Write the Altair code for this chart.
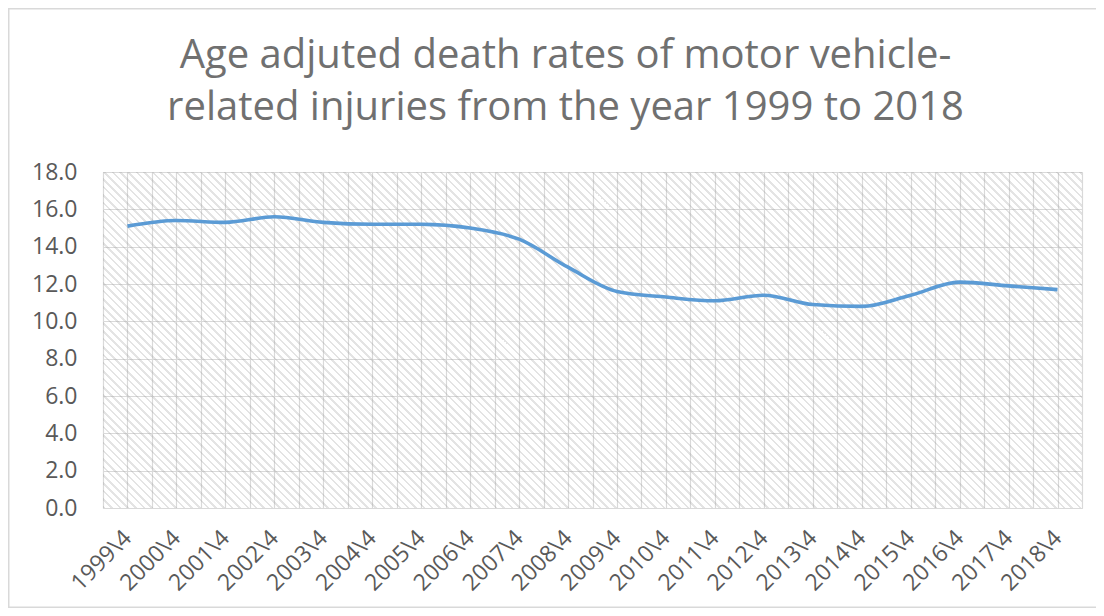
import altair as alt
import pandas as pd

# ---- data ----
years = [1999, 2000, 2001, 2002, 2003, 2004, 2005, 2006, 2007, 2008,
         2009, 2010, 2011, 2012, 2013, 2014, 2015, 2016, 2017, 2018]
rates = [15.1, 15.4, 15.3, 15.6, 15.3, 15.2, 15.2, 15.0, 14.4, 12.9,
         11.6, 11.3, 11.1, 11.4, 10.9, 10.8, 11.4, 12.1, 11.9, 11.7]
label_suffix = "\\4"
y_ticks = [0, 2, 4, 6, 8, 10, 12, 14, 16, 18]
title_lines = ["Age adjuted death rates of motor vehicle-",
               "related injuries from the year 1999 to 2018"]

df = pd.DataFrame({"year": years, "rate": rates})

W, H = 979, 336
PAD = {"left": 95, "top": 164, "right": 14, "bottom": 100}
FONT = "Open Sans"
TXT = "#595959"
GRID = "#d9d9d9"

# x grid at category centres and boundaries
x_vals = []
for y in years:
    x_vals += [y - 0.5, y]
x_vals.append(years[-1] + 0.5)

# hatch pattern (wide downward diagonal) emulated with a striped linear gradient
P = 8.0          # stripe period in px along x
band = 2.2       # stripe thickness in px along x
k = (W + H) / (W + H * H / W)
n = int((W + H) / P) + 1
stops = []
stripe = "rgba(150,150,150,0.26)"
clear = "rgba(255,255,255,0)"
for i in range(n):
    a = i * P / (W + H)
    b = (i * P + band) / (W + H)
    c = (i + 1) * P / (W + H)
    if a > 1:
        break
    stops += [{"offset": round(min(a, 1), 5), "color": stripe},
              {"offset": round(min(b, 1), 5), "color": stripe},
              {"offset": round(min(b, 1), 5), "color": clear},
              {"offset": round(min(c, 1), 5), "color": clear}]
gradient = {"gradient": "linear", "x1": 0, "y1": 1,
            "x2": round(k, 5), "y2": round(1 - k * H / W, 5), "stops": stops}

hatch = alt.Chart(alt.Data(values=[{"z": 1}])).mark_rect(
    fill=gradient, stroke=None
).encode(x=alt.value(0), x2=alt.value(W), y=alt.value(0), y2=alt.value(H))

border = alt.Chart(alt.Data(values=[{"z": 1}])).mark_rect(
    fill=None, stroke="#d9d9d9", strokeWidth=1.5
).encode(x=alt.value(-PAD["left"] + 0.75), x2=alt.value(W + 60),
         y=alt.value(-PAD["top"] + 0.75), y2=alt.value(H + PAD["bottom"] - 0.75))

line = alt.Chart(df).mark_line(
    color="#5B9BD5", strokeWidth=3.6, interpolate="monotone"
).encode(
    x=alt.X("year:Q",
            scale=alt.Scale(domain=[years[0] - 0.5, years[-1] + 0.5], nice=False, zero=False),
            axis=alt.Axis(values=x_vals, title=None, grid=True, gridColor=GRID, gridWidth=1.2,
                          ticks=False, domain=False, labelAngle=315, labelAlign="right",
                          labelBaseline="middle", labelPadding=26, labelOverlap=False,
                          labelFlush=False, labelBound=False,
                          labelExpr="datum.value % 1 == 0 ? datum.value + '" + label_suffix.replace("\\", "\\\\") + "' : ''",
                          labelFont=FONT, labelFontSize=23, labelColor=TXT)),
    y=alt.Y("rate:Q",
            scale=alt.Scale(domain=[0, 18], nice=False),
            axis=alt.Axis(values=y_ticks, format=".1f", title=None, grid=True, gridColor=GRID,
                          gridWidth=1.2, ticks=False, domain=False, labelPadding=26,
                          labelFont=FONT, labelFontSize=23, labelColor=TXT)),
)

chart = alt.layer(hatch, line, border).properties(
    width=W, height=H,
    autosize=alt.AutoSizeParams(type="none"),
    padding=PAD,
    title=alt.TitleParams(text=title_lines, font=FONT, fontSize=40, fontWeight="normal",
                          color="#707070", anchor="middle", dx=-27, lineHeight=52, offset=-120),
).configure_view(stroke=None, fill="white").configure(background="white")

chart.save("out.html", embed_options={"renderer": "svg", "actions": False})
